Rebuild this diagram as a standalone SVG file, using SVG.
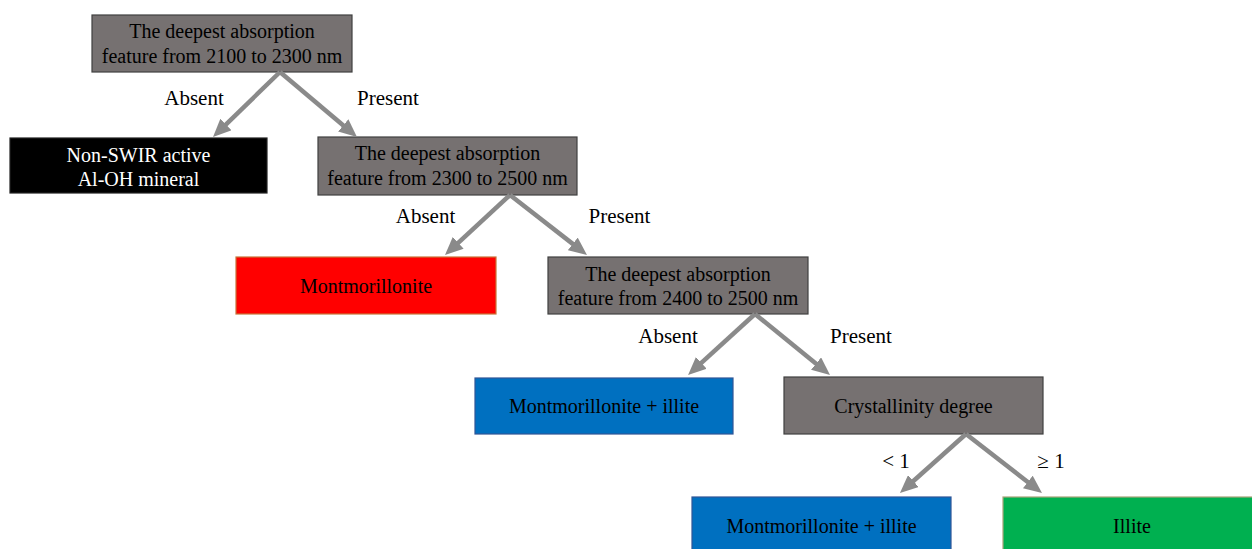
<svg xmlns="http://www.w3.org/2000/svg" width="1252" height="549" viewBox="0 0 1252 549">
<style>
.t{font-family:"Liberation Serif","Times New Roman",serif;font-size:20px;text-anchor:middle;fill:#000}
.w{fill:#fff}
.lb{font-family:"Liberation Serif","Times New Roman",serif;font-size:21px;text-anchor:middle;fill:#000}
.grey{fill:#767171;stroke:#404040;stroke-width:1.2}
.black{fill:#000;stroke:#222;stroke-width:1.2}
.red{fill:#ff0000;stroke:#c8733a;stroke-width:1.2}
.blue{fill:#0070c0;stroke:#2f5597;stroke-width:1.2}
.green{fill:#00b050;stroke:#a8a57a;stroke-width:1.2}
.ar{stroke:#8a8a8a;stroke-width:4.5;fill:none;marker-end:url(#ah)}
</style>
<defs>
<marker id="ah" viewBox="0 0 18 16" refX="5.2" refY="8" markerWidth="18" markerHeight="16" markerUnits="userSpaceOnUse" orient="auto">
<path d="M0,0 L18,8 L0,16 z" fill="#8a8a8a"/>
</marker>
</defs>
<rect width="1252" height="549" fill="#fff"/>
<g id="n1">
<rect class="grey" x="92" y="15" width="260" height="57"/>
<text class="t" x="222" y="38">The deepest absorption</text>
<text class="t" x="222" y="63">feature from 2100 to 2300 nm</text>
</g>
<g id="n2">
<rect class="black" x="10" y="138" width="257" height="55"/>
<text class="t w" x="138.5" y="162">Non-SWIR active</text>
<text class="t w" x="138.5" y="186">Al-OH mineral</text>
</g>
<g id="n3">
<rect class="grey" x="318" y="137" width="259" height="58"/>
<text class="t" x="447.5" y="160">The deepest absorption</text>
<text class="t" x="447.5" y="185">feature from 2300 to 2500 nm</text>
</g>
<g id="n4">
<rect class="red" x="236" y="257" width="260" height="57"/>
<text class="t" x="366" y="293">Montmorillonite</text>
</g>
<g id="n5">
<rect class="grey" x="548" y="257" width="260" height="57"/>
<text class="t" x="678" y="281">The deepest absorption</text>
<text class="t" x="678" y="305">feature from 2400 to 2500 nm</text>
</g>
<g id="n6">
<rect class="blue" x="475" y="378" width="258" height="56"/>
<text class="t" x="604" y="413">Montmorillonite + illite</text>
</g>
<g id="n7">
<rect class="grey" x="784" y="377" width="259" height="57"/>
<text class="t" x="913.5" y="413">Crystallinity degree</text>
</g>
<g id="n8">
<rect class="blue" x="692" y="497" width="259" height="60"/>
<text class="t" x="821.5" y="533">Montmorillonite + illite</text>
</g>
<g id="n9">
<rect class="green" x="1003" y="497" width="258" height="60"/>
<text class="t" x="1132" y="533">Illite</text>
</g>
<g id="connectors">
<line class="ar" x1="280" y1="72" x2="222.2" y2="128.1"/>
<line class="ar" x1="280" y1="72" x2="347.2" y2="128.7"/>
<line class="ar" x1="510" y1="195" x2="454.4" y2="246.3"/>
<line class="ar" x1="510" y1="195" x2="576.9" y2="247.1"/>
<line class="ar" x1="755" y1="314" x2="697.5" y2="366.4"/>
<line class="ar" x1="755" y1="314" x2="820.1" y2="366.9"/>
<line class="ar" x1="966" y1="434" x2="909.5" y2="484.5"/>
<line class="ar" x1="966" y1="434" x2="1031.9" y2="485.2"/>
<text class="lb" x="194" y="105">Absent</text>
<text class="lb" x="388" y="105">Present</text>
<text class="lb" x="425.5" y="223">Absent</text>
<text class="lb" x="619.5" y="223">Present</text>
<text class="lb" x="668" y="343">Absent</text>
<text class="lb" x="861" y="343">Present</text>
<text class="lb" x="896" y="468">&lt; 1</text>
<text class="lb" x="1051" y="468">≥ 1</text>
</g>
</svg>
